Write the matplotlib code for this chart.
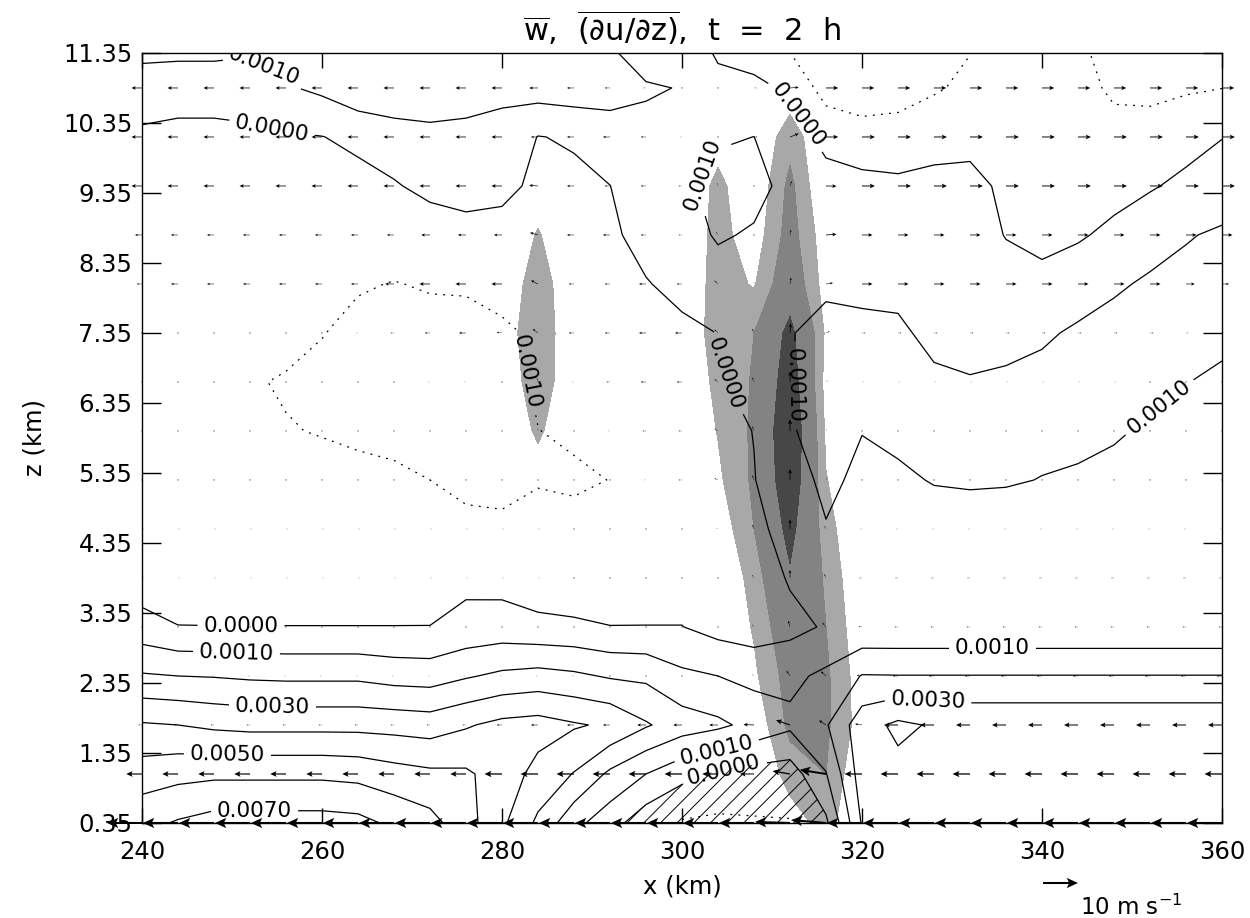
import matplotlib
matplotlib.use("Agg")
import matplotlib.pyplot as plt
import numpy as np

plt.rcParams["font.family"] = ["DejaVu Sans"]
plt.rcParams["mathtext.fontset"] = "dejavusans"
plt.rcParams["hatch.linewidth"] = 0.7

# model grid (km)
x_km = np.arange(240, 364, 4)
z_km = np.round(0.35 + 0.7 * np.arange(17), 2)

# mean du/dz in 1e-4 s^-1, one list per x column, bottom to top
shear_cols = [
    [67, 55, 41, 21, 4, -6, -7, -7, -8, -8, -8, -7, -6, -4, -2, 6, 14],
    [71, 57, 40, 20, 0.3, -7, -8, -8, -8, -9, -9, -8, -6, -4, -2.5, 4, 15],
    [74, 58, 38, 19.5, 0.2, -7, -8, -8, -9, -9, -9, -8, -6, -4, -2.5, 4, 15],
    [74, 58, 37, 18.5, 0.2, -7, -8, -8, -9, -9.5, -9, -8, -6, -4, -2, 5, 13],
    [74, 58, 37, 18, 0.2, -7, -8, -9, -9.7, -10.5, -8.2, -7.5, -6, -3, -1, 9, 15],
    [74, 58, 37, 18, 0.2, -7, -8, -8, -10.3, -11.5, -9.8, -8, -6, -3, -0.2, 12, 16],
    [73, 57, 37, 18, 0.2, -7, -8, -8.5, -11, -12, -11.5, -9.5, -6.5, -3, 2.1, 17, 18],
    [68, 54, 36.4, 16, 0.2, -7, -8, -9, -11.5, -12.5, -12, -10.2, -7, -0.8, 5, 18, 19],
    [63.4, 52, 35.3, 15.4, 0.2, -6, -8, -10, -12, -13, -12, -9.5, -5, 2.5, 8, 14.7, 18],
    [54, 51.5, 39, 19, 3, -2.4, -8.5, -11.5, -12.5, -13, -11.5, -9.5, -4, 4.5, 9, 11.6, 16],
    [42, 45.5, 42.7, 22, 4.1, -3.3, -9, -11.5, -12.5, -13, -10.5, -9, -3.5, 2.5, 8, 11.4, 16],
    [28, 36.8, 44, 23.5, 2.5, -5.8, -9, -10.2, -10.1, -9, -9.5, -8, -5, -2, -0.3, 14.6, 18],
    [13, 29.5, 41, 21.8, 2, -8, -8, -11, -9, -8, -7, -5.5, -4, -2, 1, 15.7, 13],
    [4, 18, 38.5, 19, 0.2, -6, -7.5, -9.9, -7.5, -6, -5, -4, -2.5, -0.1, 5.3, 14, 9.5],
    [-6, 10, 31, 18, 0.2, -5, -6, -6, -5, -4, -3, -0.8, 4.8, 6, 7.3, 11, 3.3],
    [-11, 3, 25, 12, 0.2, -5, -5, -5, -4, -3.5, -3, 4, 6, 8, 8.5, 9.6, 5],
    [-12, -1.5, 22, 10, -3.5, -5, -4, -3, -3, -1, 0.2, 6, 11, 13, 9, 3, -3],
    [-11, -4, 17, 7, -5, -6, -2, -0.3, 0.2, 3, 4, 5, 9, 13, 10.05, 3, -8],
    [-10.5, -5, 12, 7.8, -2.9, 1, 3, 6, 9.3, 9.5, 9.5, 8, 7, 7, 5, -2, -13],
    [-2, 9.5, 19, 12, 1, 3, 9.5, 12, 13, 14, 13, 8.3, 6, 4, -3, -14, -15],
    [31, 35, 36, 20.5, 2, 3, 6, 8, 10.2, 13, 12, 8, 5, 2.5, -5, -17, -16],
    [36, 37.3, 42, 20.3, 2, 3, 5, 8.5, 12, 13, 12, 7, 4, 2, -6, -14, -14],
    [34, 36, 39, 20.3, 2, 3, 6, 10.5, 13, 12, 7, 5, 4, 3, -4, -11, -12],
    [34, 36, 38, 20.3, 2, 3, 6, 11, 12.5, 10.7, 6, 4, 3.5, 3, -3, -8, -11],
    [34, 36, 38, 20.3, 2, 3, 6, 10.7, 12, 11.5, 7, 3, -0.3, -2, -3, -5, -8],
    [34, 36, 38, 20.3, 2, 3, 7, 9.8, 12, 13, 8.5, 3, -3, -4, -4, -5, -7],
    [34, 36, 38, 20.3, 2, 3, 6, 9, 12, 13, 11.5, 5, -1, -3, -4, -6, -9],
    [34, 36, 38, 20.3, 2, 3, 5, 8, 10.8, 12.5, 12.5, 9, 2, -3, -6, -12, -14],
    [34, 36, 38, 20.3, 2, 3, 5, 7, 9, 12, 13, 11, 7, -1, -5, -13, -15],
    [34, 36, 38, 20.3, 2, 3, 4, 6, 8, 10.2, 12.5, 12, 9.5, 2.5, -4, -11, -13],
    [34, 36, 38, 20.3, 2, 3, 4, 5, 6.5, 8.5, 12, 13, 11, 6, -0.3, -10.1, -14],
]

# mean w (m/s) in the columns where it is non-zero, bottom to top
w_cols = {
    280: [0, 0, 0, 0, 0, 0, 0, 0, 0, 0, 0.3, 0, 0, 0, 0, 0, 0],
    284: [0, 0, 0, 0, 0, 0, 0, 0.4, 1.2, 1.8, 1.9, 1.7, 1.1, 0.3, 0, 0, 0],
    304: [0, 0, 0, 0, 0, 0, 0.3, 0.8, 1.05, 1.3, 1.6, 1.5, 1.4, 1.3, 0.5, 0, 0],
    308: [0, 0, 0.2, 0.8, 1.1, 1.4, 2, 2.2, 2.2, 2.1, 2, 0.9, 0.4, 0.1, 0, 0, 0],
    312: [0.5, 1.4, 2.3, 2.5, 3, 3.8, 4.5, 5.2, 5.5, 5, 4.5, 3, 2.5, 2.3, 1.6, 0.3, 0],
    316: [1.4, 2, 2.2, 2.2, 2, 1.8, 1.4, 1.05, 0.8, 0.6, 0.8, 0.5, 0.36, -0.1, 0, 0, 0],
    320: [0, 0, 0.5, 0.4, 0.2, 0, 0, 0, 0, 0, 0, 0, 0, 0, 0, 0, 0],
}

# mean u (m/s) on the arrow rows z = 0.35 ... 10.85, x = 240 ... 360
u_rows = [
    [-10, -10, -10, -10, -10, -10, -10, -10, -10, -10, -10, -10, -10, -10, -10, -10,
     -10, -10, -10, -10, -10, -10, -10, -10, -10, -10, -10, -10, -10, -10, -10],
    [-4.5, -4.5, -4.5, -4.5, -4.5, -4.5, -4.5, -4.5, -4.5, -4.5, -5, -5, -5, -5, -5, -5,
     -4.5, -4, -5, -7.5, -5, -5, -5, -5, -5, -5, -5, -5, -5, -5, -5],
    [-1, -1, -1, -1, -1, -1, -1, -1, -1, -1, -1.5, -2, -2, -2, -2.5, -2.5,
     -2.5, -3, -4, -2, -2, -4, -4, -4, -4, -4, -4, -4, -4, -4, -4],
    [-0.5, -0.5, -0.5, -0.5, -0.5, -0.5, -0.5, -0.5, -0.5, -0.5, -0.5, -0.5, -0.5, -0.3, 0, 0,
     0, -0.5, -1, -1.5, -1.5, -1.5, -1.5, -1.5, -1.5, -1.5, -1.5, -1.5, -1.5, -1.5, -1.5],
    [0.3, 0.3, 0.3, 0.3, 0.3, 0.3, 0.3, 0.3, 0.3, 0.3, 0.3, 0.3, 0.3, 0, 0, 0,
     0, -0.5, -0.5, -1, -1, -1, -1, -1, -1, -1, -1, -1, -1, -1, -1],
    [0.5, 0.5, 0.5, 0.5, 0.5, 0.5, 0.5, 0.5, 0.5, 0.5, 0.5, 0.5, 0.3, 0, 0, 0,
     -0.3, -0.5, 0, -0.5, -0.8, -0.8, -0.8, -0.8, -0.8, -0.8, -0.8, -0.8, -0.8, -0.8, -0.8],
    [0.5, 0.5, 0.5, 0.5, 0.5, 0.5, 0.5, 0.5, 0.5, 0.5, 0.5, 0.5, 0.3, 0, 0, 0,
     -0.5, -0.5, 0, -0.5, -0.5, -0.5, -0.5, -0.5, -0.5, -0.5, -0.5, -0.5, -0.5, -0.5, -0.5],
    [0.2, 0.2, 0.2, 0.2, 0.2, 0.2, 0.2, 0.2, 0.2, 0.2, 0.2, 0.2, 0.2, 0, -0.5, -1,
     -1, -0.5, 0, 0.3, 0.3, 0.3, 0.3, 0.3, 0.3, 0.3, 0.3, 0.3, 0.3, 0.3, 0.3],
    [0, 0, 0, 0, 0, 0, 0, 0, 0, 0, 0, 0, -0.3, -0.5, -1, -1,
     -1, -0.5, 0, 0.3, 0, 0, 0, 0, 0, 0, 0, 0, 0, 0, 0],
    [0, 0, 0, 0, 0, 0, 0, -0.3, -0.5, -0.5, -0.3, -0.3, -0.5, -1, -1.5, -1.5,
     -1, -0.5, 0, 0.5, 0.5, 0.5, 0.5, 0.5, 0.5, 0.5, 0.5, 0.5, 0.2, 0.2, 0.2],
    [-0.2, -0.2, -0.2, -0.2, -0.2, -0.3, -0.5, -1, -1.5, -2, -1.5, -1.5, -1.5, -1.5, -2, -2,
     -1, -0.5, 0.2, 1, 1, 1, 1, 1, 1, 1, 1, 1, 1, 0.7, 0.5],
    [-1.5, -2, -2, -2, -2, -2, -2, -2.5, -3, -3, -3, -2, -1.5, -1.5, -2, -1.5,
     -1, 0, 0.3, 2, 3, 3, 3, 3, 3, 3, 3, 3, 3, 2.5, 2],
    [-2, -2, -2, -2, -2, -2, -2, -2, -2.5, -2.3, -2.3, -2.3, -2, -2, -1.5, -1,
     -0.5, 0, 0.3, 3, 3, 3, 3, 3, 3, 3, 3, 3, 3, 3, 3],
    [-3, -3, -3, -3, -3, -3, -3, -3, -3, -3, -3, -2.5, -2, -1.5, -1.5, -1,
     -0.3, 0, 0.5, 3, 3.7, 3.7, 3.7, 3.7, 3.7, 3.7, 3.7, 3.7, 3.7, 3.7, 3.7],
    [-3, -3, -3, -3, -3, -3, -3, -3, -3, -3, -3, -2, -2, -2, -1.5, -0.5,
     0, 1, 2.5, 3.5, 3.7, 3.7, 3.7, 3.7, 3.7, 3.7, 3.7, 3.7, 3.7, 3.7, 3.7],
    [-3, -3, -3, -3, -3, -3, -3, -3, -3, -3, -3, -2.5, -2, -1.5, -0.8, -0.2,
     0.2, 0.8, 2.5, 3.5, 3.5, 3.5, 3.5, 3.5, 3.5, 3.5, 3.5, 3.5, 3.5, 3.5, 3.5],
]

shear_levels = [0, 10, 20, 30, 40, 50, 60, 70]
neg_levels = [-10]
w_levels = [1, 2, 4, 100]
w_colors = ["#a8a8a8", "#838383", "#474747"]
y_ticks = [0.35, 1.35, 2.35, 3.35, 4.35, 5.35, 6.35, 7.35, 8.35, 9.35, 10.35, 11.35]
x_ticks = [240, 260, 280, 300, 320, 340, 360]

# where the contour labels sit (km, km)
label_spots = [(253, 11.05), (254.5, 10.3), (303.7, 9.5), (313.3, 10.5), (304.4, 6.75),
               (312.3, 6.6), (353, 6.3), (251, 3.18), (250.5, 2.8), (254.5, 2.05),
               (249.5, 1.35), (252.5, 0.62), (334.5, 2.84), (327.3, 2.07), (304, 1.3),
               (305, 0.85)]
neg_label_spots = [(283, 6.8)]

shear = np.array(shear_cols).T
w = np.zeros((len(z_km), len(x_km)))
for xc, col in w_cols.items():
    w[:, list(x_km).index(xc)] = col
u = np.array(u_rows)

X, Z = np.meshgrid(x_km, z_km)

fig = plt.figure(figsize=(12.5, 9.18), dpi=100)
ax = fig.add_axes([0.1136, 0.1035, 0.864, 0.8388])

ax.contourf(X, Z, w, levels=w_levels, colors=w_colors, zorder=1)
ax.contourf(X[:3], Z[:3], shear[:3], levels=[-100, 0], colors="none",
            hatches=["//"], zorder=2)

cs = ax.contour(X, Z, shear, levels=shear_levels, colors="k", linewidths=0.9, zorder=3)
cs_neg = ax.contour(X, Z, shear, levels=neg_levels, colors="k", linewidths=0.9,
                    linestyles=[(0, (1.5, 5))], zorder=3)


def fmt(v):
    return f"{abs(v) * 1e-4:.4f}"


ax.clabel(cs, fmt=fmt, fontsize=15.5, inline=True, inline_spacing=6, manual=label_spots)
ax.clabel(cs_neg, fmt=fmt, fontsize=15.5, inline=True, inline_spacing=6,
          manual=neg_label_spots)

Xa, Za = np.meshgrid(x_km, z_km[:16])
q = ax.quiver(Xa, Za, u, 0.6 * w[:16], angles="uv", scale_units="inches",
              scale=10 / 0.35, pivot="tail", width=0.0019, headwidth=5,
              headlength=5.5, headaxislength=4.5, minshaft=2.5, minlength=0.6,
              color="k", zorder=5, clip_on=False)
ax.quiverkey(q, X=1078 / 1250, Y=35 / 918, U=10, label=" ", coordinates="figure",
             labelpos="E")
fig.text(1080 / 1250, 0.003, "10 m s$^{-1}$", ha="left", va="baseline", fontsize=16.5)

ax.set_xlim(240, 360)
ax.set_ylim(0.35, 11.35)
ax.set_xticks(x_ticks)
ax.set_yticks(y_ticks)
ax.set_yticklabels([f"{t:.2f}" for t in y_ticks])
ax.tick_params(axis="x", direction="in", length=11, width=1, top=True, labelsize=17.5, pad=12)
ax.tick_params(axis="y", direction="in", length=14, width=1, right=True, labelsize=17.5, pad=7)
for s in ax.spines.values():
    s.set_linewidth(1)

ax.set_xlabel("x (km)", fontsize=17.5, labelpad=8)
ax.set_ylabel("z (km)", fontsize=17.5, labelpad=12)
ax.set_title(r"$\overline{\mathrm{w}}$,  $\overline{(\partial\mathrm{u}/\partial\mathrm{z})}$,  t  =  2  h",
             fontsize=22, pad=8)

fig.savefig("out.png", dpi=100)
